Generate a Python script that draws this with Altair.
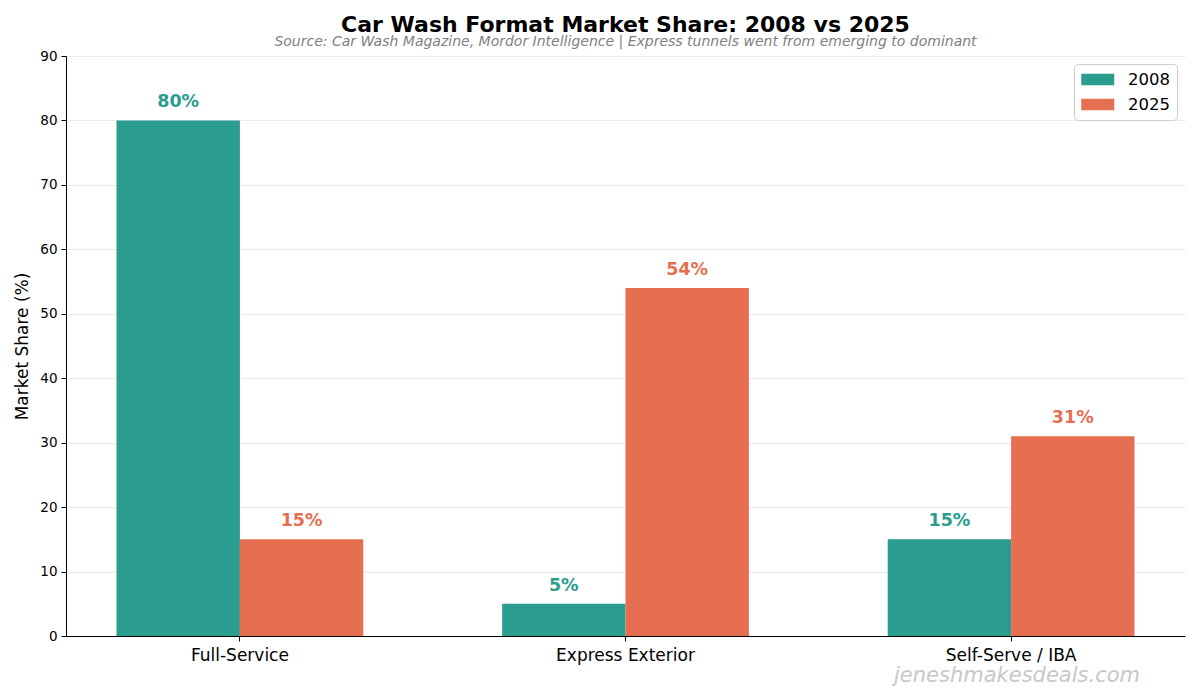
import altair as alt
import pandas as pd

categories = ["Full-Service", "Express Exterior", "Self-Serve / IBA"]
years = ["2008", "2025"]
share_2008 = [80, 5, 15]
share_2025 = [15, 54, 31]
colors = ["#2a9d8f", "#e76f51"]

rows = []
for c, a, b in zip(categories, share_2008, share_2025):
    rows.append({"category": c, "year": "2008", "share": a, "label": f"{a}%"})
    rows.append({"category": c, "year": "2025", "share": b, "label": f"{b}%"})
df = pd.DataFrame(rows)

font = "DejaVu Sans"

x_scale = alt.Scale(paddingInner=0.36, paddingOuter=0.131)
x_enc = alt.X("category:N", sort=categories, scale=x_scale,
              axis=alt.Axis(title=None, labelAngle=0, labelFontSize=17, labelColor="black",
                            labelFont=font, domainColor="black", tickColor="black",
                            tickSize=5, labelPadding=6, grid=False))
xoff = alt.XOffset("year:N", sort=years, scale=alt.Scale(paddingInner=0, paddingOuter=0))
y_enc = alt.Y("share:Q", scale=alt.Scale(domain=[0, 90], nice=False),
              axis=alt.Axis(title="Market Share (%)", titleFontSize=17, titleFont=font,
                            titleFontWeight="normal", titleColor="black", titlePadding=8,
                            values=list(range(0, 91, 10)), labelFontSize=13.5, labelFont=font,
                            labelColor="black", domainColor="black", tickColor="black",
                            tickSize=5, gridColor="#e6e6e6", gridWidth=0.8, labelPadding=4))
color_enc = alt.Color("year:N", sort=years,
                      scale=alt.Scale(domain=years, range=colors),
                      legend=alt.Legend(title=None, orient="top-right", offset=8,
                                        symbolType="M-1,-0.7L3,-0.7L3,0.7L-1,0.7Z",
                                        symbolSize=272, symbolStrokeWidth=0,
                                        labelFontSize=16.5, labelFont=font, labelColor="black",
                                        strokeColor="#cccccc", fillColor="white",
                                        cornerRadius=4, padding=7, rowPadding=8,
                                        labelOffset=30))

bars = alt.Chart(df).mark_bar().encode(x=x_enc, xOffset=xoff, y=y_enc, color=color_enc)

labels = alt.Chart(df).mark_text(dy=-18, baseline="middle", fontWeight="bold",
                                 fontSize=17.5, font=font).encode(
    x=alt.X("category:N", sort=categories, scale=x_scale),
    xOffset=xoff, y=alt.Y("share:Q"), text="label:N",
    color=alt.Color("year:N", scale=alt.Scale(domain=years, range=colors), legend=None))

wm = alt.Chart(pd.DataFrame({"t": ["jeneshmakesdeals.com"]})).mark_text(
    fontSize=21, fontStyle="italic", color="#c8c8c8", font=font, align="center",
    baseline="middle").encode(text="t:N", x=alt.value(951), y=alt.value(620))

chart = alt.layer(bars, labels, wm).properties(
    width=1119, height=580,
    autosize=alt.AutoSizeParams(type="none"),
    padding={"left": 58, "top": 48, "right": 7, "bottom": 56},
    title=alt.TitleParams("Car Wash Format Market Share: 2008 vs 2025",
                          subtitle="Source: Car Wash Magazine, Mordor Intelligence | Express tunnels went from emerging to dominant",
                          fontSize=22, font=font, fontWeight="bold", color="black",
                          subtitleFont=font, subtitleFontSize=14, subtitleFontStyle="italic",
                          subtitleColor="gray", anchor="middle", offset=0, dy=1,
                          subtitlePadding=-2)
).configure_view(stroke=None).configure_axis(domainWidth=1)

chart.save("out.html", embed_options={"renderer": "svg", "actions": False})
